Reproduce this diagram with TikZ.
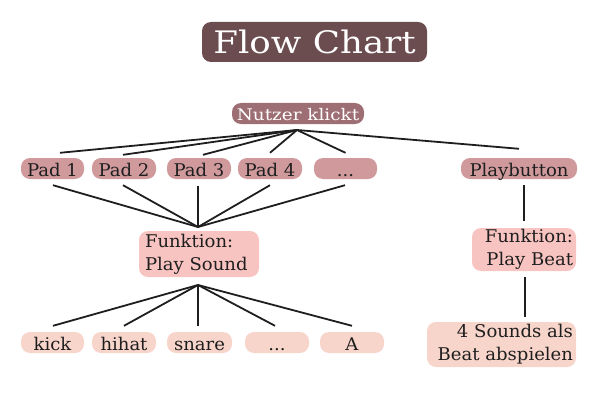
\documentclass[tikz,border=0pt]{standalone}
\usepackage{fontspec}
\setmainfont{DejaVu Serif}[FakeStretch=1.03]
\newfontfamily\widefont{DejaVu Serif}[FakeStretch=1.15]
\usetikzlibrary{calc}
\definecolor{cTitle}{HTML}{6B4C4F}
\definecolor{cUser}{HTML}{9D6E73}
\definecolor{cPad}{HTML}{D09A9D}
\definecolor{cFunc}{HTML}{F8C4C1}
\definecolor{cLeaf}{HTML}{F8D5CB}
\definecolor{cTxt}{HTML}{1E1E1E}
\begin{document}
\begin{tikzpicture}[x=1pt,y=-1pt,
  box/.style={rounded corners=9pt, inner sep=0pt, minimum height=21pt, text=cTxt,
    font=\fontsize{17.5}{23}\selectfont},
  single/.style={box, text height=16pt, text depth=0pt},
  padbox/.style={single, fill=cPad},
  leafbox/.style={single, fill=cLeaf},
  funcbox/.style={box, fill=cFunc},
  conn/.style={line width=1.8pt, draw=cTxt}]
\useasboundingbox (0,0) rectangle (596,401);

\node[box, fill=cTitle, text=white, minimum width=225pt, minimum height=40pt, rounded corners=9pt,
  font=\widefont\fontsize{31}{36}\selectfont] (title) at (314.5,42) {Flow Chart};
\node[single, fill=cUser, text=white, minimum width=132pt, text height=14pt,
  font=\widefont\fontsize{16}{20}\selectfont] (user) at (298,113.5) {Nutzer klickt};

\node[padbox, minimum width=63pt] (p1) at (52.5,168.5) {Pad 1};
\node[padbox, minimum width=64pt] (p2) at (124,168.5) {Pad 2};
\node[padbox, minimum width=64pt] (p3) at (199,168.5) {Pad 3};
\node[padbox, minimum width=64pt] (p4) at (270,168.5) {Pad 4};
\node[padbox, minimum width=63pt] (p5) at (345.5,168.5) {...};
\node[padbox, minimum width=116pt] (play) at (519,168.5) {Playbutton};

\node[funcbox, minimum width=120pt, minimum height=46pt, text width=108pt, align=left] (fsound) at (199,254) {Funktion:\\Play Sound};
\node[funcbox, minimum width=104pt, minimum height=43pt, text width=98pt, align=right] (fbeat) at (524,249.5) {Funktion:\\Play Beat};
\node[funcbox, fill=cLeaf, minimum width=149pt, minimum height=45pt, text width=143pt, align=right] (beat) at (501.5,344.5) {4 Sounds als\\Beat abspielen};

\node[leafbox, minimum width=63pt] (l1) at (52.5,342.5) {kick};
\node[leafbox, minimum width=64pt] (l2) at (124,342.5) {hihat};
\node[leafbox, minimum width=65pt] (l3) at (199.5,342.5) {snare};
\node[leafbox, minimum width=64pt] (l4) at (277,342.5) {...};
\node[leafbox, minimum width=64pt] (l5) at (352,342.5) {A};

\coordinate (h1) at (297,130);
\coordinate (h2) at (198,227);
\coordinate (h3) at (198,285);

\draw[conn] (h1) -- ([xshift=7.5pt,yshift=5pt]p1.north);
\draw[conn] (h1) -- ([xshift=-1pt,yshift=3pt]p2.north);
\draw[conn] (h1) -- ([xshift=4pt,yshift=3pt]p3.north);
\draw[conn] (h1) -- ([yshift=5pt]p4.north);
\draw[conn] (h1) -- ([yshift=5pt]p5.north);
\draw[conn] (h1) -- ([yshift=9pt]play.north);

\draw[conn] ([xshift=0.5pt,yshift=-6pt]p1.south) -- (h2);
\draw[conn] ([xshift=-1pt,yshift=-6pt]p2.south) -- (h2);
\draw[conn] ([xshift=-1pt,yshift=-7pt]p3.south) -- (h2);
\draw[conn] ([yshift=-6pt]p4.south) -- (h2);
\draw[conn] ([xshift=-0.5pt,yshift=-6pt]p5.south) -- (h2);

\draw[conn] (h3) -- ([xshift=0.5pt,yshift=6pt]l1.north);
\draw[conn] (h3) -- ([yshift=6pt]l2.north);
\draw[conn] (h3) -- ([xshift=-1.5pt,yshift=6pt]l3.north);
\draw[conn] (h3) -- ([xshift=-2pt,yshift=6pt]l4.north);
\draw[conn] (h3) -- ([yshift=6pt]l5.north);

\draw[conn] ([yshift=-6pt]play.south -| fbeat.north) -- ([yshift=7pt]fbeat.north);
\draw[conn] ([xshift=1pt,yshift=-6pt]fbeat.south) -- ([xshift=1pt,yshift=5pt]fbeat.south |- beat.north);
\end{tikzpicture}
\end{document}
